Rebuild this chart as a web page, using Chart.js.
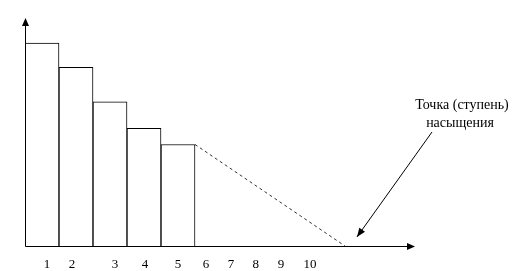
<!DOCTYPE html>
<html>
<head>
<meta charset="utf-8">
<script src="https://cdn.jsdelivr.net/npm/chart.js@4/dist/chart.umd.min.js"></script>
<style>
  html, body { margin: 0; padding: 0; background: #fff; }
  #wrap { width: 524px; height: 271px; }
</style>
</head>
<body>
<div id="wrap"><canvas id="c" width="524" height="271"></canvas></div>
<script>
// Stages (bars) and their values
const barCenters = [0.5, 1.5, 2.5, 3.5, 4.5];
const barValues = [10, 8.8, 7.1, 5.8, 5.0];
// Extrapolated (dashed) decline to the saturation point
const dashX = [5, 9.41];
const dashY = [5.0, 0];
// Tick labels along the horizontal axis
const tickValues = [0.65, 1.38, 2.65, 3.53, 4.5, 5.32, 6.06, 6.79, 7.53, 8.38];
const tickLabels = ['1', '2', '3', '4', '5', '6', '7', '8', '9', '10'];
const xMax = 11.47;
const yMax = 11.23;
const annotationLines = ['Точка (ступень)', 'насыщения'];

const FONT = '"Liberation Serif", "Times New Roman", serif';

const decorPlugin = {
  id: 'decor',
  afterDraw(chart) {
    const ctx = chart.ctx;
    const ca = chart.chartArea;
    ctx.save();
    ctx.strokeStyle = '#000';
    ctx.fillStyle = '#000';
    ctx.lineWidth = 1;
    // axes
    const ax = Math.round(ca.left) + 0.5;
    const ay = Math.round(ca.bottom) + 0.5;
    ctx.beginPath();
    ctx.moveTo(ax, ay);
    ctx.lineTo(ca.right - 6, ay);
    ctx.moveTo(ax, ay);
    ctx.lineTo(ax, ca.top + 6);
    ctx.stroke();
    // arrowheads
    ctx.beginPath();
    ctx.moveTo(ca.right, ay);
    ctx.lineTo(ca.right - 8, ay - 3.5);
    ctx.lineTo(ca.right - 8, ay + 3.5);
    ctx.closePath();
    ctx.fill();
    ctx.beginPath();
    ctx.moveTo(ax, ca.top);
    ctx.lineTo(ax - 3.5, ca.top + 8);
    ctx.lineTo(ax + 3.5, ca.top + 8);
    ctx.closePath();
    ctx.fill();
    // annotation text
    ctx.font = '14px ' + FONT;
    ctx.textAlign = 'center';
    ctx.textBaseline = 'middle';
    const tx = ca.right + 47;
    ctx.fillText(annotationLines[0], tx, 105);
    ctx.fillText(annotationLines[1], tx - 2, 123);
    // annotation arrow toward saturation point
    const xs = chart.scales.xb;
    const ys = chart.scales.y;
    const px = xs.getPixelForValue(dashX[1]) + 12;
    const py = ys.getPixelForValue(dashY[1]) - 9;
    const sx = ca.right + 17, sy = 132;
    ctx.beginPath();
    ctx.moveTo(sx, sy);
    ctx.lineTo(px, py);
    ctx.stroke();
    const ang = Math.atan2(py - sy, px - sx);
    const L = 9, W = 3.5;
    ctx.beginPath();
    ctx.moveTo(px, py);
    ctx.lineTo(px - L * Math.cos(ang) + W * Math.sin(ang), py - L * Math.sin(ang) - W * Math.cos(ang));
    ctx.lineTo(px - L * Math.cos(ang) - W * Math.sin(ang), py - L * Math.sin(ang) + W * Math.cos(ang));
    ctx.closePath();
    ctx.fill();
    ctx.restore();
  }
};

new Chart(document.getElementById('c'), {
  type: 'bar',
  data: {
    datasets: [
      {
        type: 'bar',
        data: barCenters.map((x, i) => ({ x: x, y: barValues[i] })),
        xAxisID: 'xb',
        backgroundColor: '#ffffff',
        borderColor: '#000000',
        borderWidth: 1,
        barPercentage: 1,
        categoryPercentage: 1
      },
      {
        type: 'line',
        data: dashX.map((x, i) => ({ x: x, y: dashY[i] })),
        xAxisID: 'xb',
        borderColor: '#333333',
        borderWidth: 1,
        borderDash: [3, 3],
        pointRadius: 0,
        fill: false
      }
    ]
  },
  options: {
    responsive: false,
    animation: false,
    devicePixelRatio: 1,
    layout: { padding: { left: 25, top: 18, right: 109, bottom: 0 } },
    plugins: { legend: { display: false }, tooltip: { enabled: false } },
    scales: {
      x: {
        type: 'linear',
        offset: false,
        min: 0, max: xMax,
        grid: { display: false, drawTicks: false, offset: false },
        border: { display: false },
        afterBuildTicks(scale) { scale.ticks = tickValues.map(v => ({ value: v })); },
        afterFit(scale) { scale.height = 25; scale.paddingLeft = 0; scale.paddingRight = 0; },
        ticks: {
          autoSkip: false,
          maxRotation: 0,
          padding: 11,
          color: '#000',
          font: { family: FONT, size: 13 },
          callback: (v, i) => tickLabels[i]
        }
      },
      xb: {
        type: 'linear',
        display: false,
        offset: false,
        min: 0, max: xMax,
        afterBuildTicks(scale) { scale.ticks = []; }
      },
      y: {
        type: 'linear',
        display: false,
        min: 0, max: yMax
      }
    }
  },
  plugins: [decorPlugin]
});
</script>
</body>
</html>
